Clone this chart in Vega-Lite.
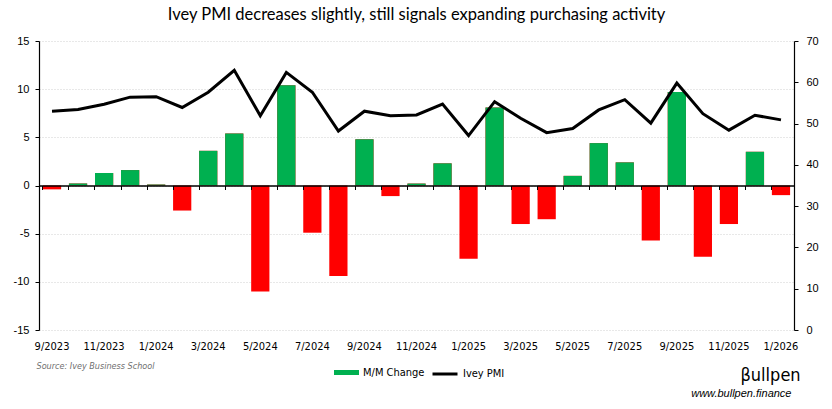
{
  "$schema": "https://vega.github.io/schema/vega-lite/v6.json",
  "autosize": {"type": "none"},
  "padding": {"left": 39, "top": 41, "right": 38, "bottom": 79},
  "width": 755,
  "height": 289,
  "background": "#ffffff",
  "title": {
    "text": "Ivey PMI decreases slightly, still signals expanding purchasing activity",
    "anchor": "middle",
    "frame": "group",
    "font": "Lato",
    "fontSize": 16.5,
    "fontWeight": "normal",
    "color": "#000000",
    "baseline": "alphabetic",
    "offset": -1
  },
  "data": {
    "values": [
      {"month": "9/2023", "change": -0.4, "pmi": 53.0},
      {"month": "10/2023", "change": 0.2, "pmi": 53.4},
      {"month": "11/2023", "change": 1.3, "pmi": 54.7},
      {"month": "12/2023", "change": 1.6, "pmi": 56.4},
      {"month": "1/2024", "change": 0.1, "pmi": 56.5},
      {"month": "2/2024", "change": -2.6, "pmi": 53.9},
      {"month": "3/2024", "change": 3.6, "pmi": 57.6},
      {"month": "4/2024", "change": 5.4, "pmi": 62.9},
      {"month": "5/2024", "change": -11.0, "pmi": 51.9},
      {"month": "6/2024", "change": 10.4, "pmi": 62.4},
      {"month": "7/2024", "change": -4.9, "pmi": 57.6},
      {"month": "8/2024", "change": -9.4, "pmi": 48.2},
      {"month": "9/2024", "change": 4.8, "pmi": 53.0},
      {"month": "10/2024", "change": -1.1, "pmi": 51.9},
      {"month": "11/2024", "change": 0.2, "pmi": 52.1},
      {"month": "12/2024", "change": 2.3, "pmi": 54.7},
      {"month": "1/2025", "change": -7.6, "pmi": 47.1},
      {"month": "2/2025", "change": 8.1, "pmi": 55.3},
      {"month": "3/2025", "change": -4.0, "pmi": 51.3},
      {"month": "4/2025", "change": -3.5, "pmi": 47.8},
      {"month": "5/2025", "change": 1.0, "pmi": 48.8},
      {"month": "6/2025", "change": 4.4, "pmi": 53.3},
      {"month": "7/2025", "change": 2.4, "pmi": 55.8},
      {"month": "8/2025", "change": -5.7, "pmi": 50.1},
      {"month": "9/2025", "change": 9.7, "pmi": 59.8},
      {"month": "10/2025", "change": -7.4, "pmi": 52.4},
      {"month": "11/2025", "change": -4.0, "pmi": 48.4},
      {"month": "12/2025", "change": 3.5, "pmi": 52.0},
      {"month": "1/2026", "change": -1.0, "pmi": 50.9}
    ]
  },
  "layer": [
    {
      "layer": [
        {
          "mark": {"type": "bar", "color": "#FF0000"},
          "encoding": {
            "x": {
              "field": "month",
              "type": "ordinal",
              "sort": null,
              "scale": {"paddingInner": 0.3, "paddingOuter": 0.15},
              "axis": {
                "values": ["9/2023", "11/2023", "1/2024", "3/2024", "5/2024", "7/2024", "9/2024", "11/2024", "1/2025", "3/2025", "5/2025", "7/2025", "9/2025", "11/2025", "1/2026"],
                "labelAngle": 0,
                "domain": false,
                "ticks": false,
                "grid": false,
                "labelPadding": 10,
                "labelFont": "Liberation Sans Narrow, DejaVu Sans Condensed, Liberation Sans",
                "labelFontSize": 11,
                "labelColor": "#000000",
                "title": "Source: Ivey Business School",
                "titleFont": "Liberation Sans Narrow, DejaVu Sans Condensed, Liberation Sans",
                "titleFontStyle": "italic",
                "titleFontWeight": "normal",
                "titleFontSize": 9,
                "titleColor": "#6f6f6f",
                "titleAnchor": "start",
                "titleAlign": "left",
                "titleBaseline": "middle",
                "titleX": -3,
                "titleY": 35
              }
            },
            "y": {
              "field": "change",
              "type": "quantitative",
              "scale": {"domain": [-15, 15], "nice": false, "zero": false},
              "axis": {
                "values": [-15, -10, -5, 0, 5, 10, 15],
                "labelExpr": "datum.value < 0 ? '-' + abs(datum.value) : '' + datum.value",
                "domain": true,
                "domainColor": "#000000",
                "domainWidth": 1.2,
                "ticks": true,
                "tickColor": "#000000",
                "tickSize": 4,
                "labelPadding": 6,
                "labelFont": "Liberation Sans",
                "labelFontSize": 11,
                "labelColor": "#000000",
                "grid": true,
                "gridColor": "#d0d0d0",
                "gridDash": [1, 2],
                "gridWidth": 1,
                "title": "βullpen",
                "titleAngle": 0,
                "titleFont": "Liberation Sans Narrow, DejaVu Sans Condensed, Liberation Sans",
                "titleFontSize": 18,
                "titleFontWeight": "normal",
                "titleColor": "#000000",
                "titleAlign": "left",
                "titleBaseline": "middle",
                "titleX": 701,
                "titleY": 334
              }
            }
          }
        },
        {
          "mark": {"type": "bar"},
          "encoding": {
            "x": {"field": "month", "type": "ordinal", "sort": null},
            "y": {"field": "change", "type": "quantitative"},
            "opacity": {
              "condition": {"test": "datum.change < 0", "value": 0},
              "value": 1
            },
            "color": {
              "datum": "M/M Change",
              "type": "nominal",
              "scale": {"domain": ["M/M Change"], "range": ["#00B050"]},
              "legend": {
                "orient": "none",
                "direction": "horizontal",
                "legendX": 295,
                "legendY": 319,
                "title": null,
                "padding": 0,
                "symbolType": "M-1,-0.2H1V0.2H-1Z",
                "symbolSize": 625,
                "symbolOpacity": 1,
                "symbolStrokeWidth": 0,
                "labelFont": "Liberation Sans Narrow, DejaVu Sans Condensed, Liberation Sans",
                "labelFontSize": 11,
                "labelColor": "#000000",
                "labelOffset": 4
              }
            }
          }
        }
      ]
    },
    {
      "mark": {"type": "line", "strokeWidth": 3, "strokeJoin": "miter"},
      "encoding": {
        "x": {
          "field": "month",
          "type": "ordinal",
          "sort": null,
          "axis": {
            "offset": -144.5,
            "orient": "bottom",
            "labels": false,
            "domain": true,
            "domainColor": "#000000",
            "domainWidth": 1.5,
            "ticks": true,
            "tickColor": "#000000",
            "tickSize": 4,
            "bandPosition": 0,
            "grid": false,
            "title": null,
            "zindex": 2
          }
        },
        "y": {
          "field": "pmi",
          "type": "quantitative",
          "scale": {"domain": [0, 70], "nice": false, "zero": false},
          "axis": {
            "orient": "right",
            "values": [0, 10, 20, 30, 40, 50, 60, 70],
            "domain": true,
            "domainColor": "#000000",
            "domainWidth": 1.2,
            "ticks": true,
            "tickColor": "#000000",
            "tickSize": 4,
            "labelPadding": 8,
            "labelFont": "Liberation Sans",
            "labelFontSize": 11,
            "labelColor": "#000000",
            "grid": false,
            "title": "www.bullpen.finance",
            "titleAngle": 0,
            "titleFont": "Liberation Sans",
            "titleFontStyle": "italic",
            "titleFontWeight": "normal",
            "titleFontSize": 11,
            "titleColor": "#000000",
            "titleAlign": "right",
            "titleBaseline": "middle",
            "titleX": -3,
            "titleY": 352
          }
        },
        "stroke": {
          "datum": "Ivey PMI",
          "type": "nominal",
          "scale": {"domain": ["Ivey PMI"], "range": ["#000000"]},
          "legend": {
            "orient": "none",
            "direction": "horizontal",
            "legendX": 392,
            "legendY": 319,
            "title": null,
            "padding": 0,
            "symbolType": "stroke",
            "symbolSize": 625,
            "symbolStrokeWidth": 3,
            "symbolOpacity": 1,
            "labelFont": "Liberation Sans Narrow, DejaVu Sans Condensed, Liberation Sans",
            "labelFontSize": 11,
            "labelColor": "#000000",
            "labelOffset": 4
          }
        }
      }
    }
  ],
  "resolve": {"scale": {"y": "independent"}, "axis": {"x": "independent"}},
  "config": {
    "view": {"stroke": null},
    "axis": {"labelFontWeight": "normal"}
  }
}
